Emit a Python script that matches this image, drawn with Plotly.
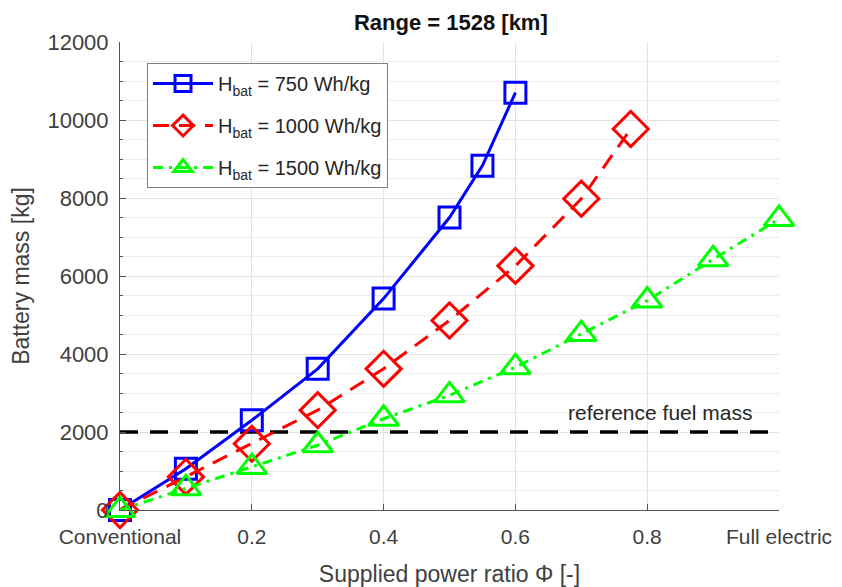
import plotly.graph_objects as go

# Data
x_750 = [0, 0.1, 0.2, 0.3, 0.4, 0.5, 0.55, 0.6]
m_750 = [0, 1060, 2300, 3620, 5420, 7500, 8830, 10700]

x_1000 = [0, 0.1, 0.2, 0.3, 0.4, 0.5, 0.6, 0.7, 0.775]
m_1000 = [0, 850, 1700, 2560, 3620, 4860, 6260, 7980, 9770]

x_1500 = [0, 0.1, 0.2, 0.3, 0.4, 0.5, 0.6, 0.7, 0.8, 0.9, 1.0]
m_1500 = [0, 560, 1100, 1660, 2340, 2940, 3660, 4510, 5370, 6430, 7460]

ref_x = [0, 1]
ref_mass = [2000, 2000]

x_tickvals = [0, 0.2, 0.4, 0.6, 0.8, 1.0]
x_ticktext = ["Conventional", "0.2", "0.4", "0.6", "0.8", "Full electric"]
y_tickvals = [0, 2000, 4000, 6000, 8000, 10000, 12000]
y_ticktext = ["0", "2000", "4000", "6000", "8000", "10000", "12000"]

FONT = "Liberation Sans, Arial, sans-serif"

fig = go.Figure()

fig.add_trace(go.Scatter(
    x=ref_x, y=ref_mass, mode="lines", showlegend=False,
    line=dict(color="black", width=3.5, dash="18px,12px"), cliponaxis=False,
    hoverinfo="skip"))

fig.add_trace(go.Scatter(
    x=x_750, y=m_750, mode="lines+markers", name="H<sub>bat</sub> = 750 Wh/kg",
    legendgroup="a",
    line=dict(color="#0000ff", width=3),
    marker=dict(symbol="square-open", size=21, color="#0000ff", line=dict(width=3, color="#0000ff")),
    cliponaxis=False))

fig.add_trace(go.Scatter(
    x=x_1000, y=m_1000, mode="lines+markers", name="H<sub>bat</sub> = 1000 Wh/kg",
    legendgroup="b",
    line=dict(color="#ff0000", width=3, dash="16px,10px"),
    marker=dict(symbol="diamond-open", size=27, color="#ff0000", line=dict(width=3, color="#ff0000")),
    cliponaxis=False))

fig.add_trace(go.Scatter(
    x=x_1500, y=m_1500, mode="lines+markers", name="H<sub>bat</sub> = 1500 Wh/kg",
    legendgroup="c",
    line=dict(color="#00ff00", width=3, dash="10px,6px,3px,6px"),
    marker=dict(symbol="triangle-up-open", size=26, color="#00ff00", line=dict(width=3, color="#00ff00")),
    cliponaxis=False))

fig.add_annotation(x=0.82, y=2000, xref="x", yref="y", text="reference fuel mass",
                   showarrow=False, yanchor="bottom", yshift=6,
                   font=dict(family=FONT, size=21, color="#262626"))

# The page body adds an 8px margin, so the figure is drawn 8px smaller
fig.update_layout(
    width=834, height=579,
    margin=dict(l=112, r=63, t=34, b=77),
    paper_bgcolor="white", plot_bgcolor="white",
    font=dict(family=FONT, color="#404040"),
    title=dict(text="<b>Range = 1528 [km]</b>", x=0.531, xanchor="center",
               y=0.976, yanchor="middle", yref="container",
               font=dict(family=FONT, size=22, color="#111")),
    legend=dict(x=0.041, y=0.955, xanchor="left", yanchor="top",
                bgcolor="white", bordercolor="#808080", borderwidth=1,
                font=dict(family=FONT, size=20, color="#262626"),
                itemwidth=60, tracegroupgap=13),
    showlegend=True,
)

fig.update_xaxes(
    range=[0, 1], tickvals=x_tickvals, ticktext=x_ticktext,
    ticks="inside", ticklen=6, tickcolor="#555", ticklabelstandoff=8,
    showline=True, linecolor="#555", linewidth=1,
    showgrid=True, gridcolor="#e3e3e3", gridwidth=1,
    zeroline=False, automargin=False,
    tickfont=dict(family=FONT, size=21, color="#404040"),
    title=dict(text="Supplied power ratio Φ [-]", font=dict(family=FONT, size=23, color="#404040"), standoff=19),
)

fig.update_yaxes(
    range=[0, 12000], tickvals=y_tickvals, ticktext=y_ticktext,
    ticks="inside", ticklen=6, tickcolor="#555", ticklabelstandoff=6,
    showline=True, linecolor="#555", linewidth=1,
    showgrid=True, gridcolor="#e3e3e3", gridwidth=1,
    minor=dict(dtick=500, ticks="inside", ticklen=3, tickcolor="#555",
               showgrid=True, gridcolor="#ececec", gridwidth=1),
    zeroline=False, automargin=False,
    tickfont=dict(family=FONT, size=22, color="#404040"),
    title=dict(text="Battery mass [kg]", font=dict(family=FONT, size=23, color="#404040"), standoff=14),
)

fig.write_html("out.html")
